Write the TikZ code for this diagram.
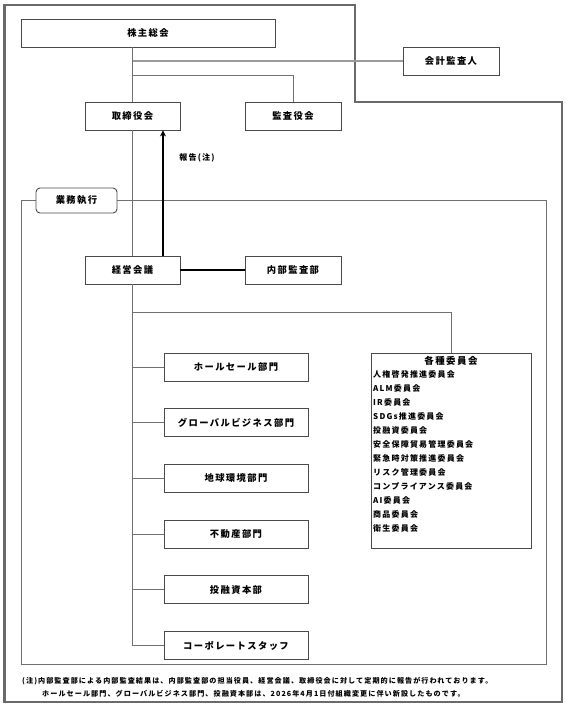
\documentclass[tikz,border=0pt]{standalone}
\usepackage{fontspec}
\setmainfont{Noto Sans CJK JP}
\newfontfamily\jpbox[LetterSpace=15]{Noto Sans CJK JP}
\usetikzlibrary{arrows.meta}
\definecolor{boxgray}{HTML}{4A4A4A}
\definecolor{conngray}{HTML}{707070}
\definecolor{framegray}{HTML}{6A6A6A}
\definecolor{lightline}{HTML}{9A9A9A}
\tikzset{
  box/.style={draw=boxgray, line width=0.9pt, minimum height=28pt, inner sep=0pt, fill=white,
    font=\jpbox\fontsize{9.3}{11}\selectfont\bfseries},
  dept/.style={box, minimum width=144pt},
  lbox/.style={draw=boxgray, line width=0.9pt, rounded corners=4pt, minimum width=81pt, minimum height=25pt,
    inner sep=0pt, fill=white, font=\jpbox\fontsize{9.3}{11}\selectfont\bfseries},
  conn/.style={draw=conngray, line width=0.8pt},
  acc/.style={draw=lightline, line width=1.6pt},
  heavy/.style={draw=black, line width=1.8pt},
  outerframe/.style={draw=framegray, line width=2.4pt},
  gframe/.style={draw=conngray, line width=0.8pt},
  item/.style={anchor=west, inner sep=0pt, font=\jpbox\fontsize{8}{9}\selectfont\bfseries},
  note/.style={anchor=west, inner sep=0pt, font=\jpbox\fontsize{7.1}{8}\selectfont\bfseries},
}
\begin{document}
\begin{tikzpicture}[x=1pt,y=-1pt]
\useasboundingbox (0,0) rectangle (567,706);
% outer frame
\draw[outerframe] (4.5,5) -- (355,5) -- (355,102) -- (562,102) -- (562,702) -- (4.5,702) -- cycle;
% business execution frame
\draw[gframe] (21,200) rectangle (546,664);

% nodes
\node[box, minimum width=254pt] (kabu) at (148,33) {株主総会};
\node[box, minimum width=96pt] (kaikei) at (451,61) {会計監査人};
\node[box, minimum width=95pt] (tori) at (132.5,116) {取締役会};
\node[box, minimum width=96pt] (kansa) at (293,116) {監査役会};
\node[box, minimum width=95pt] (keiei) at (132.5,270) {経営会議};
\node[box, minimum width=96pt] (naibu) at (293,270) {内部監査部};

\node[dept] (d1) at (236,367) {ホールセール部門};
\node[dept] (d2) at (236,422.7) {グローバルビジネス部門};
\node[dept] (d3) at (236,478.4) {地球環境部門};
\node[dept] (d4) at (236,534.1) {不動産部門};
\node[dept] (d5) at (236,589.8) {投融資本部};
\node[dept] (d6) at (236,645.5) {コーポレートスタッフ};

\node[draw=boxgray, line width=0.9pt, minimum width=160pt, minimum height=195pt, inner sep=0pt] (iinkai) at (451,450.5) {};
\node[inner sep=0pt, font=\jpbox\fontsize{9.5}{11}\selectfont\bfseries] (ititle) at (451,361) {各種委員会};
\foreach \t [count=\k from 0] in {人権啓発推進委員会,ALM委員会,IR委員会,SDGs推進委員会,投融資委員会,安全保障貿易管理委員会,緊急時対策推進委員会,リスク管理委員会,コンプライアンス委員会,AI委員会,商品委員会,衛生委員会}{
  \node[item] (it\k) at (373,374+14*\k) {\t};
}

% connectors
\draw[conn] (tori.north |- kabu.south) -- (tori.north);
\coordinate (jk) at (tori.north |- kaikei.west);
\draw[acc] (jk) -- (kaikei.west);
\coordinate (jm) at (tori.north |- 0,75);
\draw[conn] (jm) -| (kansa.north);
\draw[conn] (tori.south) -- (keiei.north);
\draw[heavy, -{Stealth[length=6pt,width=6pt]}] (keiei.north -| 163,0) -- (tori.south -| 163,0);
\node[inner sep=0pt, font=\jpbox\fontsize{8}{9}\selectfont\bfseries] (hokoku) at (197,158) {報告(注)};
\draw[heavy] (keiei) -- (naibu);
\draw[conn] (keiei.south) -- (keiei.south |- d6.west);
\coordinate (ji) at (keiei.south |- 0,312);
\draw[conn] (ji) -| (iinkai.north);
\foreach \d in {d1,d2,d3,d4,d5,d6}{
  \draw[conn] (keiei.south |- \d.west) -- (\d.west);
}

\node[lbox] (gyomu) at (76.5,200.5) {業務執行};

% footnotes
\node[note] (n1) at (22,681) {(注)内部監査部による内部監査結果は、内部監査部の担当役員、経営会議、取締役会に対して定期的に報告が行われております。};
\node[note] (n2) at (42,694) {ホールセール部門、グローバルビジネス部門、投融資本部は、2026年4月1日付組織変更に伴い新設したものです。};
\end{tikzpicture}
\end{document}
